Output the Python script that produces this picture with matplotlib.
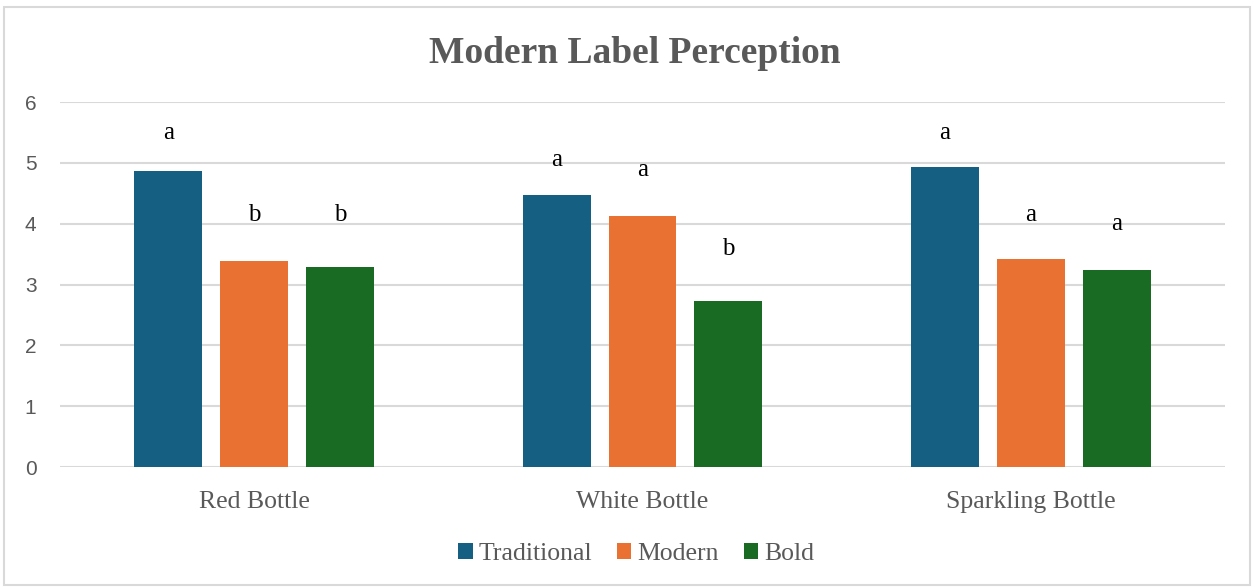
import matplotlib.pyplot as plt
import numpy as np
from matplotlib.patches import Rectangle

categories = ['Red Bottle', 'White Bottle', 'Sparkling Bottle']
series_names = ['Traditional', 'Modern', 'Bold']
traditional = [4.87, 4.47, 4.93]
modern = [3.38, 4.13, 3.42]
bold = [3.29, 2.73, 3.24]
colors = ['#156082', '#E97132', '#196B24']

# significance letters and the height they sit at
letters = [['a', 'b', 'b'], ['a', 'a', 'b'], ['a', 'a', 'a']]
letter_heights = [[5.49, 4.14, 4.14], [5.04, 4.88, 3.58], [5.49, 4.15, 4.00]]

fig = plt.figure(figsize=(12.55, 5.87), dpi=100)
ax = fig.add_axes([0.0478, 0.2044, 0.9283, 0.6218])

x = np.arange(len(categories))
width = 0.175
pitch = 0.221
values = [traditional, modern, bold]

for i, (name, vals) in enumerate(zip(series_names, values)):
    pos = x + (i - 1) * pitch
    ax.bar(pos, vals, width=width, color=colors[i], label=name, zorder=3)
    for j in range(len(categories)):
        ax.text(pos[j], letter_heights[j][i], letters[j][i], ha='center', va='center',
                fontsize=18, family='Liberation Serif', color='black')

ax.set_xlim(-0.5, 2.5)
ax.set_ylim(0, 6)
ax.set_yticks(range(7))
ax.set_xticks(x)
ax.set_xticklabels(categories, family='Liberation Serif', fontsize=18.5, color='#595959')
for lbl in ax.get_yticklabels():
    lbl.set_family('Liberation Sans')
    lbl.set_fontsize(15)
    lbl.set_color('#595959')
ax.tick_params(axis='both', length=0)
ax.tick_params(axis='y', pad=17)
ax.tick_params(axis='x', pad=17)
ax.grid(axis='y', color='#D9D9D9', linewidth=1.5, zorder=0)
for s in ax.spines.values():
    s.set_visible(False)

fig.text(0.5055, 0.909, 'Modern Label Perception', ha='center', va='center',
         fontsize=27, fontweight='bold', family='Liberation Serif', color='#595959')

fig.legend(loc='center', bbox_to_anchor=(0.507, 0.056), ncol=3, frameon=False,
           prop={'family': 'Liberation Serif', 'size': 18.5}, labelcolor='#595959',
           handlelength=0.55, handleheight=0.55, handletextpad=0.25, columnspacing=0.95)

fig.add_artist(Rectangle((0.003, 0.003), 0.993, 0.985, transform=fig.transFigure,
                         fill=False, edgecolor='#D9D9D9', linewidth=1.5))

fig.savefig('out.png', dpi=100)
